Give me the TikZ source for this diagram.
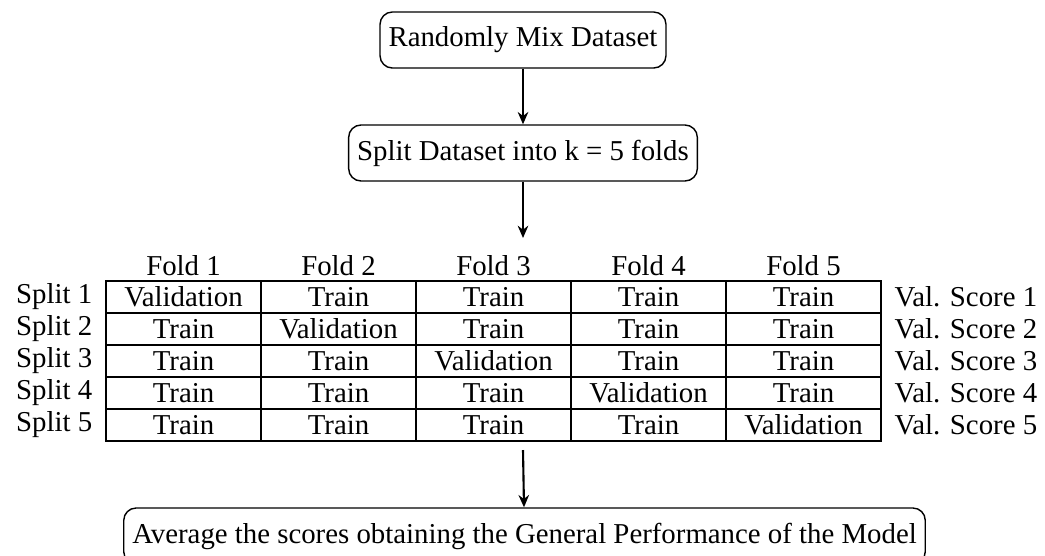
\documentclass[tikz,border=0pt]{standalone}
\IfFileExists{mathpazo.sty}{\IfFileExists{pplr8t.tfm}{\def\havepazo{1}}{}}{}
\ifdefined\havepazo
  \usepackage[T1]{fontenc}
  \usepackage{mathpazo}
  \newcommand{\figfont}{\fontsize{14.7}{17}\selectfont}
\else
  \usepackage{fontspec}
  \setmainfont{Liberation Serif}
  \newcommand{\figfont}{\fontsize{16.4}{19}\selectfont}
\fi
\usetikzlibrary{positioning,arrows.meta}

\tikzset{
  stepbox/.style={draw,thick,rounded corners=7pt,minimum height=1.12cm,inner xsep=0.17cm},
  cell/.style={draw,semithick,minimum width=3.1cm,minimum height=0.64cm,inner sep=0pt},
  flow/.style={-{Stealth[length=7pt,width=6pt]},line width=1.2pt}
}

\begin{document}
\begin{tikzpicture}[font=\figfont]
    \useasboundingbox (0,0) rectangle (20.9,-11.1);
    \node[stepbox] (mix) at (10.46,-0.8) {Randomly Mix Dataset};
    \node[stepbox] (split) at (10.46,-3.06) {Split Dataset into k = 5 folds};
    \coordinate (tabin) at (10.46,-4.76);
    \coordinate (tabout) at (10.46,-9.0);
    \node[stepbox] (avg) at (10.49,-10.72) {Average the scores obtaining the General Performance of the Model};

    \foreach \r in {1,...,5} {
        \foreach \c in {1,...,5} {
            \node[cell] (cell\r\c) at ({3.67+3.1*(\c-1)},{-5.94-0.64*(\r-1)})
                {\ifnum\r=\c Validation\else Train\fi};
        }
        \node[left=0.14cm of cell\r1] (splitlbl\r) {Split \r};
        \node[right=0.14cm of cell\r5] (score\r) {Val. Score \r};
    }
    \foreach \c in {1,...,5}
        \node[above=-1pt of cell1\c] (fold\c) {Fold \c};

    \draw[flow] (mix) -- (split);
    \draw[flow] (split) -- (tabin);
    \draw[flow] (tabout) -- (avg);
\end{tikzpicture}
\end{document}
